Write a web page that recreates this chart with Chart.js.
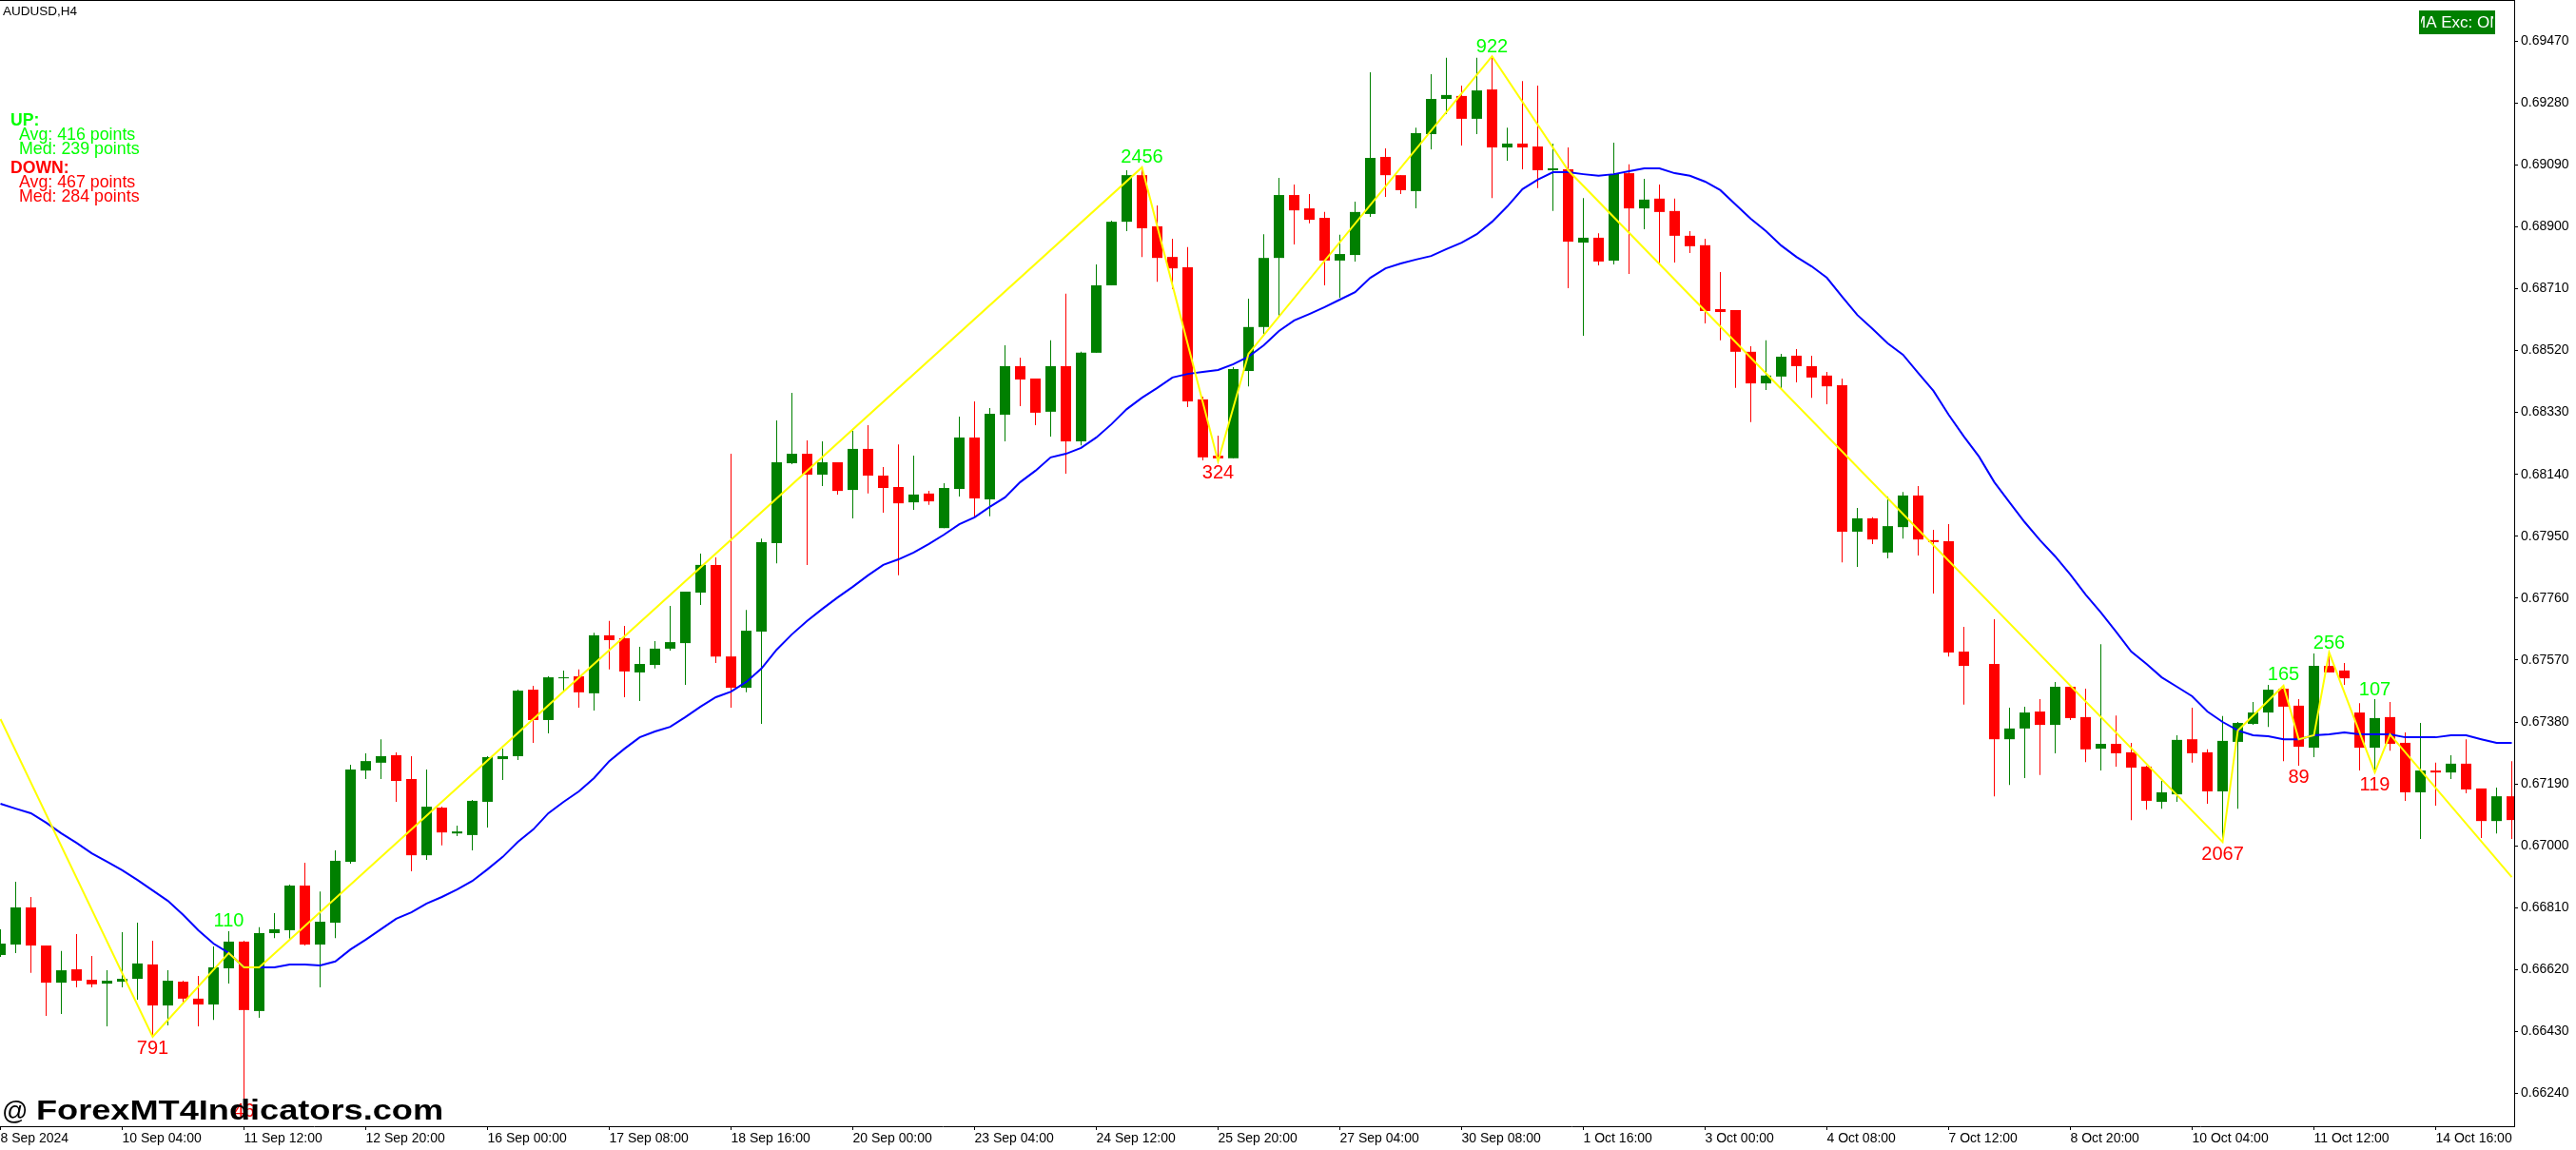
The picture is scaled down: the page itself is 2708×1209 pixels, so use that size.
<!DOCTYPE html>
<html>
<head>
<meta charset="utf-8">
<title>AUDUSD,H4</title>
<script src="https://cdn.jsdelivr.net/npm/chart.js@4/dist/chart.umd.min.js"></script>
<style>
  html, body { margin: 0; padding: 0; background: #fff; overflow: hidden; }
  canvas { display: block; }
</style>
</head>
<body>
<canvas id="chart" width="2708" height="1209"></canvas>
<script>
// prices are in points (1 point = 0.00001), one entry per H4 bar, null = no bar
const opens = [66665,66697,66811,66694,66580,66621,66589,66577,66583,66592,66636,66510,66583,66531,66513,66624,66706,66493,66732,66741,
  66878,66697,66764,66951,67231,67255,67278,67205,66971,67117,67038,67033,67135,67266,67275,67479,67386,67514,67520,67468,
  67646,67637,67532,67555,67605,67622,67777,67862,67581,67485,67657,67929,68174,68203,68139,68177,68092,68218,68136,68101,
  68054,68081,67975,68095,68253,68063,68323,68472,68434,68332,68472,68241,68513,68720,68915,69058,68901,68807,68775,68370,
  68197,68189,68457,68592,68804,68997,68956,68927,68796,68813,68939,69114,69058,69009,69184,69292,69301,69231,69321,69143,
  69155,69146,69073,69076,68851,68866,68796,69064,68956,68986,68948,68872,68843,68647,68644,68516,68419,68440,68504,68472,
  68443,68413,67964,68005,67900,67978,68075,67938,67935,67596,null,67558,67327,67360,67412,67371,67488,67395,67298,67313,
  67287,67243,67135,67158,67327,67287,67167,67319,67374,67409,67482,67430,67301,67552,67538,67409,67301,67395,67316,67164,
  67231,67225,67252,67176,67076,67152];
const highs = [66744,66890,66843,66694,66677,66729,66662,66618,66735,66764,66709,66618,66586,66601,66691,66738,66709,66750,66793,66881,
  66948,66860,66986,67249,67284,67327,67287,67275,67234,67120,67062,67141,67275,67298,67479,67491,67520,67538,67541,67654,
  67690,67675,67611,67628,67736,67780,67897,67885,68203,67724,67943,68305,68390,68244,68241,68177,68273,68291,68162,68232,
  68197,68089,68113,68317,68364,68343,68536,68498,68434,68551,68694,68516,68784,68918,69073,69082,68965,68863,68837,68378,
  68259,68469,68679,68877,69050,69029,69000,68945,68875,68977,69374,69140,69058,69204,69368,69418,69333,69418,69423,69204,
  69347,69333,69155,69143,68988,68880,69158,69091,69047,69029,68986,68886,68863,68761,68644,68533,68551,68510,68524,68504,
  68454,68434,68037,68008,68072,68086,68104,67970,67987,67672,null,67695,67424,67427,67450,67503,67488,67482,67619,67400,
  67316,67246,67199,67339,67424,67296,67398,67380,67441,67494,67494,67450,67590,67593,67561,67438,67450,67441,67348,67377,
  67255,67278,67327,67176,67179,67260];
const lows = [66659,66671,66610,66478,66484,66566,66566,66446,66566,66528,66414,66449,66519,66446,66466,66577,66224,66472,66717,66715,
  66694,66566,66717,66945,67205,67205,67135,66922,66957,67001,67030,66986,67056,67202,67263,67316,67345,67476,67424,67415,
  67541,67456,67444,67544,67599,67494,67739,67561,67424,67471,67374,67867,68171,67862,68104,68078,68005,68081,68022,67830,
  68031,68046,67975,68072,68008,68011,68241,68349,68291,68256,68142,68229,68513,68720,68886,68807,68731,68708,68346,68183,
  68180,68189,68410,68571,68626,68845,68910,68720,68682,68793,68930,68991,69000,68956,69137,69245,69149,69184,68988,69102,
  69076,69018,68948,68711,68565,68781,68784,68755,68892,68787,68790,68819,68603,68551,68405,68300,68399,68399,68422,68375,
  68355,67870,67856,67926,67882,67943,67891,67774,67581,67433,null,67152,67187,67208,67217,67284,67386,67257,67231,67243,
  67079,67111,67114,67135,67255,67129,67012,67114,67371,67365,67260,67246,67272,67532,67494,67231,67225,67292,67138,67021,
  67123,67205,67161,67024,67038,67021];
const closes = [66700,66811,66694,66580,66618,66586,66575,66586,66592,66639,66510,66586,66531,66513,66627,66706,66496,66732,66744,66878,
  66697,66767,66954,67234,67260,67275,67199,66971,67120,67041,67044,67138,67272,67275,67476,67386,67517,67517,67471,67646,
  67631,67535,67558,67605,67625,67780,67862,67581,67485,67660,67932,68177,68203,68139,68177,68089,68218,68136,68098,68051,
  68078,68057,68098,68253,68066,68326,68472,68431,68329,68472,68241,68513,68720,68915,69058,68895,68804,68772,68364,68192,
  68189,68463,68592,68804,68997,68950,68921,68796,68816,68945,69111,69058,69012,69187,69292,69304,69231,69318,69143,69155,
  69143,69073,69079,68854,68866,68793,69061,68956,68983,68945,68872,68840,68641,68638,68516,68419,68443,68501,68472,68437,
  68410,67964,68005,67940,67981,68075,67940,67932,67593,67552,null,67327,67360,67409,67371,67488,67392,67296,67313,67284,
  67240,67138,67164,67325,67284,67167,67322,67377,67409,67479,67427,67304,67552,67532,67514,67301,67392,67313,67164,67231,
  67225,67252,67173,67076,67152,67079];

const emaValues = [67129,67114,67100,67071,67038,67009,66977,66951,66925,66895,66863,66831,66788,66741,66700,66671,66627,66627,66627,66636,
  66636,66633,66645,66682,66712,66744,66776,66796,66823,66843,66866,66892,66928,66966,67012,67050,67100,67135,67167,67208,
  67260,67298,67333,67351,67365,67395,67427,67456,67473,67503,67544,67602,67649,67690,67727,67762,67795,67830,67862,67879,
  67900,67926,67955,67987,68008,68040,68069,68116,68151,68192,68203,68221,68253,68294,68340,68375,68405,68437,68448,68454,
  68460,68478,68501,68536,68580,68612,68632,68653,68676,68699,68743,68772,68787,68799,68810,68831,68851,68877,68915,68962,
  69015,69044,69067,69067,69061,69056,69061,69070,69079,69079,69064,69056,69038,69012,68968,68924,68886,68842,68807,68778,
  68743,68685,68629,68586,68542,68507,68451,68396,68323,68256,68194,68116,68054,67993,67938,67888,67832,67771,67716,67657,
  67596,67558,67517,67488,67459,67412,67380,67354,67339,67336,67327,67327,67339,67342,67348,67342,67342,67342,67333,67333,
  67333,67339,67339,67327,67316,67316];

// zigzag vertices
const zigzagBars = [0,10,15,16,17,75,80,82,98,103,146,147,150,151,152,153,156,157,165];
const zigzagPrices = [67389,66414,66671,66627,66627,69082,68180,68510,69423,69073,67012,67354,67491,67327,67339,67593,67225,67342,66904];

// swing size labels: sit over the bar's high (up) or under its low (down)
const swingBars = [10,15,16,75,80,98,146,150,151,153,156,156];
const swingTexts = ['791','110','46','2456','324','922','2067','165','89','256','107','119'];
const swingUp = [false,true,false,true,false,true,false,true,false,true,true,false];

const yTicks = [69470,69280,69090,68900,68710,68520,68330,68140,67950,67760,67570,67380,67190,67000,66810,66620,66430,66240];
const xTickBars = [0,8,16,24,32,40,48,56,64,72,80,88,96,104,112,120,128,136,144,152,160];
const xTickLabels = ['8 Sep 2024','10 Sep 04:00','11 Sep 12:00','12 Sep 20:00','16 Sep 00:00','17 Sep 08:00','18 Sep 16:00',
  '20 Sep 00:00','23 Sep 04:00','24 Sep 12:00','25 Sep 20:00','27 Sep 04:00','30 Sep 08:00','1 Oct 16:00','3 Oct 00:00',
  '4 Oct 08:00','7 Oct 12:00','8 Oct 20:00','10 Oct 04:00','11 Oct 12:00','14 Oct 16:00'];

const GREEN = '#008000';
const RED = '#ff0000';
const FONT = '"Liberation Sans", Arial, sans-serif';

const barIdx = opens.map((_, i) => i).filter(i => opens[i] !== null);
const barColors = barIdx.map(i => (closes[i] >= opens[i] ? GREEN : RED));

// everything that MT4 draws as objects on top of the chart
const overlayPlugin = {
  id: 'overlay',
  afterDraw(chart) {
    const { ctx, scales, chartArea } = chart;
    ctx.save();

    // top edge of the window
    ctx.fillStyle = '#000';
    ctx.fillRect(0, 0, chartArea.right + 1, 1);

    ctx.textBaseline = 'middle';
    ctx.textAlign = 'left';
    ctx.font = '13.5px ' + FONT;
    ctx.fillText('AUDUSD,H4', 3, 12);

    // stats block
    const stats = [
      ['UP:', 11, 127, true, '#00ff00'],
      ['Avg: 416 points', 20, 142, false, '#00ff00'],
      ['Med: 239 points', 20, 157, false, '#00ff00'],
      ['DOWN:', 11, 177, true, RED],
      ['Avg: 467 points', 20, 192, false, RED],
      ['Med: 284 points', 20, 207, false, RED]
    ];
    stats.forEach(([text, x, y, bold, color]) => {
      ctx.font = (bold ? 'bold 17.6px ' : '17.8px ') + FONT;
      ctx.fillStyle = color;
      ctx.fillText(text, x, y);
    });

    // swing labels
    ctx.font = '20px ' + FONT;
    ctx.textAlign = 'center';
    swingBars.forEach((bar, i) => {
      const up = swingUp[i];
      ctx.fillStyle = up ? '#00ff00' : RED;
      const y = scales.y.getPixelForValue(up ? highs[bar] : lows[bar]) + (up ? -10 : 13);
      ctx.fillText(swingTexts[i], scales.x.getPixelForValue(bar), y);
    });

    // button, its caption is cut off by the button width
    ctx.fillStyle = GREEN;
    ctx.fillRect(2543, 11, 80, 25);
    ctx.save();
    ctx.beginPath();
    ctx.rect(2545, 11, 76, 25);
    ctx.clip();
    ctx.fillStyle = '#fff';
    ctx.textAlign = 'left';
    ctx.font = '17px ' + FONT;
    ctx.fillText('MA Exc: ON', 2536, 24);
    ctx.restore();

    // watermark
    ctx.fillStyle = '#000';
    ctx.textAlign = 'left';
    ctx.textBaseline = 'alphabetic';
    ctx.font = '27px ' + FONT;
    ctx.fillText('@', 2, 1177);
    ctx.translate(38, 1177);
    ctx.scale(1.19, 1);
    ctx.font = 'bold 30.4px ' + FONT;
    ctx.fillText('ForexMT4Indicators.com', 0, 0);

    ctx.restore();
  }
};

const chart = new Chart(document.getElementById('chart').getContext('2d'), {
  type: 'bar',
  data: {
    datasets: [
      {
        type: 'line',
        label: 'ZigZag',
        data: zigzagBars.map((bar, i) => ({ x: bar, y: zigzagPrices[i] })),
        borderColor: '#ffff00',
        borderWidth: 2,
        pointRadius: 0,
        tension: 0,
        order: 1
      },
      {
        type: 'line',
        label: 'MA',
        data: emaValues.map((v, i) => ({ x: i, y: v })),
        borderColor: '#0000ff',
        borderWidth: 2,
        pointRadius: 0,
        tension: 0,
        order: 2
      },
      {
        label: 'Body',
        data: barIdx.map(i => ({ x: i, y: [opens[i], closes[i]] })),
        backgroundColor: barColors,
        barThickness: 11,
        grouped: false,
        inflateAmount: 0,
        order: 3
      },
      {
        label: 'Wick',
        data: barIdx.map(i => ({ x: i, y: [lows[i], highs[i]] })),
        backgroundColor: barColors,
        barThickness: 1,
        grouped: false,
        inflateAmount: 0,
        order: 4
      }
    ]
  },
  options: {
    responsive: false,
    animation: false,
    devicePixelRatio: 1,
    layout: { padding: { top: 1, left: 0, right: 0, bottom: 0 } },
    plugins: {
      legend: { display: false },
      title: { display: false },
      tooltip: { enabled: false }
    },
    scales: {
      x: {
        type: 'linear',
        position: 'bottom',
        offset: false,
        min: -0.03125,
        max: 165.156,
        border: { color: '#000', width: 1 },
        grid: { offset: false, drawOnChartArea: false, drawTicks: true, tickLength: 4, tickColor: '#000' },
        afterBuildTicks: axis => { axis.ticks = xTickBars.map(v => ({ value: v })); },
        afterFit: axis => {
          axis.height = 25;
          axis.paddingLeft = 0;
          axis.paddingRight = 0;
        },
        ticks: {
          autoSkip: false,
          maxRotation: 0,
          align: 'start',
          padding: 1,
          color: '#000',
          font: { family: FONT, size: 14 },
          callback: v => xTickLabels[xTickBars.indexOf(v)]
        }
      },
      y: {
        position: 'right',
        min: 66139.5,
        max: 69592.6,
        border: { color: '#000', width: 1 },
        grid: { drawOnChartArea: false, drawTicks: true, tickLength: 4, tickColor: '#000' },
        afterBuildTicks: axis => { axis.ticks = yTicks.map(v => ({ value: v })); },
        afterFit: axis => {
          axis.width = 65;
          axis.paddingTop = 0;
          axis.paddingBottom = 0;
        },
        ticks: {
          autoSkip: false,
          padding: 3,
          color: '#000',
          font: { family: FONT, size: 14 },
          callback: v => (v / 100000).toFixed(5)
        }
      }
    }
  },
  plugins: [overlayPlugin]
});
</script>
</body>
</html>
